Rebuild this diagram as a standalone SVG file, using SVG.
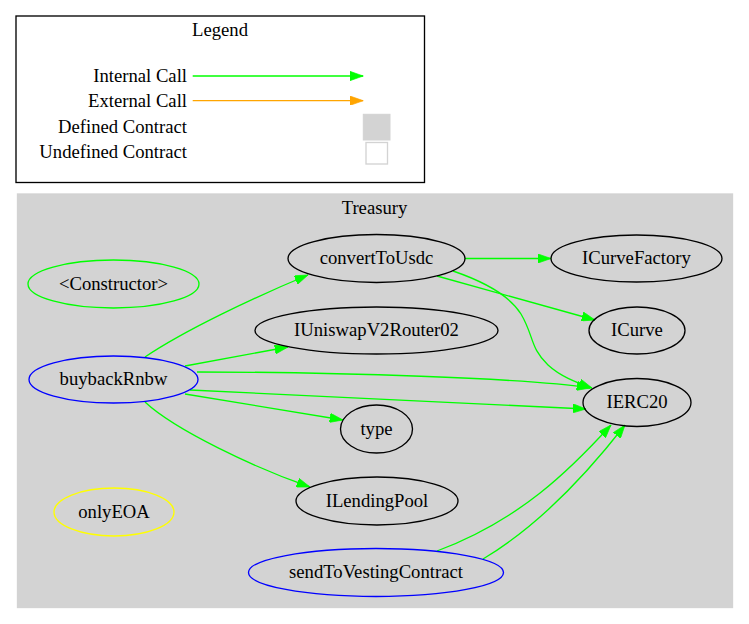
<svg xmlns="http://www.w3.org/2000/svg" width="749" height="624" viewBox="0 0 749 624">
<style>
text{font-family:'Liberation Serif','Times New Roman',Times,serif;font-size:18.67px;fill:#000}
.n{text-anchor:middle}
.r{text-anchor:end}
.e{stroke-width:1.33;fill:none}
.g{stroke:#00ff00}
.node{fill:none;stroke-width:1.33}
</style>
<defs>
<marker id="ag" viewBox="0 0 10 7" refX="10" refY="3.5" markerWidth="13.3" markerHeight="9.3" markerUnits="userSpaceOnUse" orient="auto"><path d="M0,0 L10,3.5 L0,7 z" fill="#00ff00" stroke="#00ff00" stroke-width="0.5"/></marker>
<marker id="ao" viewBox="0 0 10 7" refX="10" refY="3.5" markerWidth="13.3" markerHeight="9.3" markerUnits="userSpaceOnUse" orient="auto"><path d="M0,0 L10,3.5 L0,7 z" fill="#ffa500" stroke="#ffa500" stroke-width="0.5"/></marker>
</defs>
<rect width="749" height="624" fill="#fff"/>
<g id="legend">
<rect x="16" y="16" width="408.5" height="166.5" fill="#fff" stroke="#000" stroke-width="1.33"/>
<text class="n" x="220" y="36">Legend</text>
<text class="r" x="187" y="81.7">Internal Call</text>
<text class="r" x="187" y="107.3">External Call</text>
<text class="r" x="187" y="132.7">Defined Contract</text>
<text class="r" x="187" y="158">Undefined Contract</text>
<path class="e" d="M192.7,76 L363.3,76" stroke="#00ff00" marker-end="url(#ag)"/>
<path class="e" d="M192.7,100.7 L363.3,100.7" stroke="#ffa500" marker-end="url(#ao)"/>
<rect x="363.3" y="114.3" width="26.7" height="25.7" fill="#d3d3d3" stroke="#d3d3d3" stroke-width="1"/>
<rect x="366" y="142.5" width="21.5" height="21.5" fill="#fff" stroke="#d3d3d3" stroke-width="1.33"/>
</g>
<g id="cluster_Treasury">
<rect x="17.5" y="194" width="715" height="413.5" fill="#d3d3d3" stroke="#d3d3d3" stroke-width="1.33"/>
<text class="n" x="374.5" y="214">Treasury</text>
</g>
<g id="edges">
<path class="e g" d="M465,258.5 L551,258.5" marker-end="url(#ag)"/>
<path class="e g" d="M437,276 L595,320" marker-end="url(#ag)"/>
<path class="e g" d="M453,271 C485,282 510,296 521,314 C534,336 530,348 548,365 C560,376 575,382 592,388" marker-end="url(#ag)"/>
<path class="e g" d="M145,357 C185,330 255,297 308,275" marker-end="url(#ag)"/>
<path class="e g" d="M185,366 L288,347" marker-end="url(#ag)"/>
<path class="e g" d="M197,372 C330,372 530,378 590,388" marker-end="url(#ag)"/>
<path class="e g" d="M190,390 L586,409" marker-end="url(#ag)"/>
<path class="e g" d="M185,394 L343,420" marker-end="url(#ag)"/>
<path class="e g" d="M145,402 C175,430 255,468 310,487" marker-end="url(#ag)"/>
<path class="e g" d="M437,551 C520,520 570,470 611,425" marker-end="url(#ag)"/>
<path class="e g" d="M483,559 C540,525 590,470 625,425" marker-end="url(#ag)"/>
</g>
<g id="convertToUsdc"><ellipse class="node" cx="376.5" cy="258.5" rx="88.5" ry="24" stroke="#000"/><text class="n" x="376.5" y="264.1">convertToUsdc</text></g>
<g id="ICurveFactory"><ellipse class="node" cx="636.5" cy="258.5" rx="85.5" ry="23.5" stroke="#000"/><text class="n" x="636.5" y="264.1">ICurveFactory</text></g>
<g id="Constructor"><ellipse class="node" cx="113.5" cy="284" rx="85.5" ry="24" stroke="#00ff00"/><text class="n" x="113.5" y="289.6">&lt;Constructor&gt;</text></g>
<g id="IUniswapV2Router02"><ellipse class="node" cx="376.5" cy="330.5" rx="121.5" ry="23.5" stroke="#000"/><text class="n" x="376.5" y="336.1">IUniswapV2Router02</text></g>
<g id="ICurve"><ellipse class="node" cx="637" cy="330.5" rx="48" ry="23.5" stroke="#000"/><text class="n" x="637" y="336.1">ICurve</text></g>
<g id="buybackRnbw"><ellipse class="node" cx="113.5" cy="379.5" rx="84.5" ry="23.5" stroke="#0000ff"/><text class="n" x="113.5" y="385.1">buybackRnbw</text></g>
<g id="IERC20"><ellipse class="node" cx="637" cy="402.5" rx="54" ry="24" stroke="#000"/><text class="n" x="637" y="408.1">IERC20</text></g>
<g id="type"><ellipse class="node" cx="376.5" cy="429" rx="36" ry="24" stroke="#000"/><text class="n" x="376.5" y="434.6">type</text></g>
<g id="ILendingPool"><ellipse class="node" cx="377" cy="501" rx="81" ry="24" stroke="#000"/><text class="n" x="377" y="506.6">ILendingPool</text></g>
<g id="onlyEOA"><ellipse class="node" cx="114" cy="512" rx="60" ry="24" stroke="#ffff00"/><text class="n" x="114" y="517.6">onlyEOA</text></g>
<g id="sendToVestingContract"><ellipse class="node" cx="376" cy="572.5" rx="127.5" ry="24" stroke="#0000ff"/><text class="n" x="376" y="578.1">sendToVestingContract</text></g>
</svg>
